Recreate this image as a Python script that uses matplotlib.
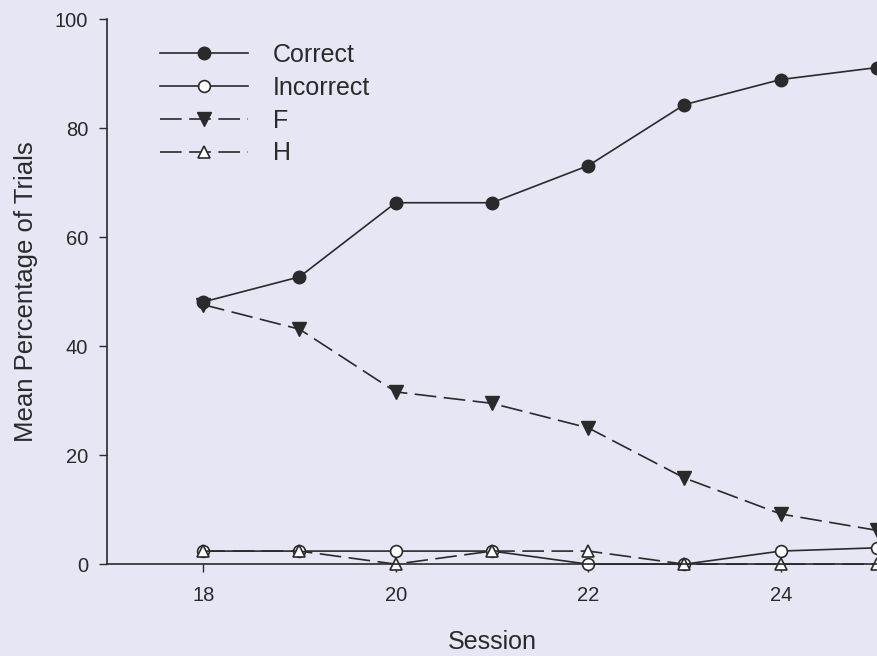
import matplotlib
matplotlib.use("Agg")
import matplotlib.pyplot as plt

plt.rcParams["font.family"] = ["Liberation Sans", "DejaVu Sans"]

BG = "#e6e6f4"
INK = "#2a2a2a"

sessions = [18, 19, 20, 21, 22, 23, 24, 25]
correct = [48.1, 52.7, 66.3, 66.3, 73.1, 84.3, 88.9, 91.1]
incorrect = [2.4, 2.4, 2.4, 2.4, 0.0, 0.0, 2.4, 3.0]
f_resp = [47.6, 43.1, 31.6, 29.5, 25.0, 15.8, 9.2, 6.2]
h_resp = [2.4, 2.4, 0.0, 2.4, 2.4, 0.0, 0.0, 0.0]

x_ticks = [18, 20, 22, 24]
y_ticks = [0, 20, 40, 60, 80, 100]

fig = plt.figure(figsize=(8.77, 6.56), dpi=100, facecolor=BG)
ax = fig.add_axes([0.122, 0.140, 0.878, 0.831], facecolor=BG)

dash = (0, (13, 4.5))
kw = dict(color=INK, lw=1.2, clip_on=False)
ax.plot(sessions, correct, "-", marker="o", ms=9, mfc=INK, mec=INK,
        label="Correct", **kw)
ax.plot(sessions, incorrect, "-", marker="o", ms=8.5, mfc="white", mec=INK,
        mew=1.2, label="Incorrect", **kw)
ax.plot(sessions, f_resp, linestyle=dash, marker="v", ms=9.5, mfc=INK, mec=INK,
        label="F", **kw)
ax.plot(sessions, h_resp, linestyle=dash, marker="^", ms=8.5, mfc="white",
        mec=INK, mew=1.2, label="H", **kw)

ax.set_xlim(17, 25)
ax.set_ylim(0, 100)
ax.set_xticks(x_ticks)
ax.set_yticks(y_ticks)
for s in ("top", "right"):
    ax.spines[s].set_visible(False)
for s in ("left", "bottom"):
    ax.spines[s].set_color(INK)
    ax.spines[s].set_linewidth(1.2)
ax.tick_params(direction="out", length=5.5, width=1.0, colors=INK,
               labelsize=14.5, pad=8)
ax.tick_params(axis="x", pad=10)

ax.set_xlabel("Session", fontsize=18, color=INK, labelpad=18)
ax.set_ylabel("Mean Percentage of Trials", fontsize=18.5, color=INK, labelpad=12)

leg = ax.legend(loc="upper left", bbox_to_anchor=(0.056, 0.974), frameon=False,
                fontsize=18, handlelength=3.5, handletextpad=1.0,
                labelspacing=0.35, borderaxespad=0)
for t in leg.get_texts():
    t.set_color(INK)

fig.savefig("out.png", dpi=100, facecolor=BG)
